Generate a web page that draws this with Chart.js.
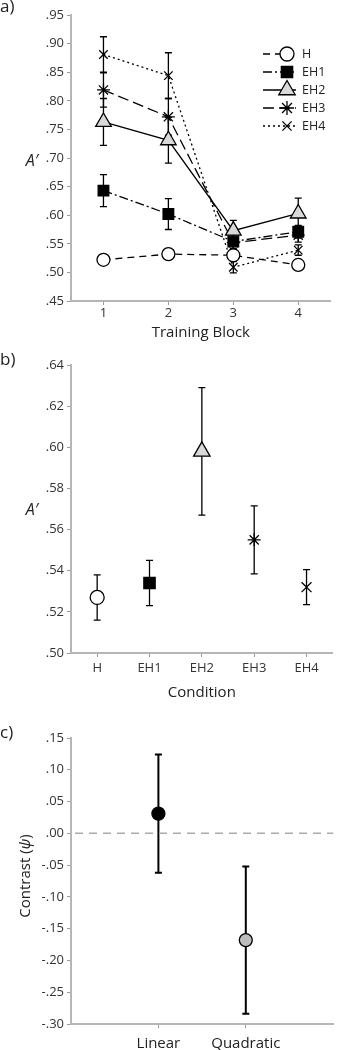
<!DOCTYPE html>
<html><head><meta charset="utf-8">
<script src="https://cdn.jsdelivr.net/npm/chart.js@4/dist/chart.umd.min.js"></script>
<style>
html,body{margin:0;padding:0;background:#fff;}
body{width:341px;height:1050px;position:relative;overflow:hidden;}
.panel{position:absolute;left:0;}
canvas{display:block;}
</style></head>
<body>
<div class="panel" style="top:0px"><canvas id="ca" width="341" height="345"></canvas></div>
<div class="panel" style="top:345px"><canvas id="cb" width="341" height="360"></canvas></div>
<div class="panel" style="top:705px"><canvas id="cc" width="341" height="345"></canvas></div>
<script>
// ---------- DATA ----------
// Panel a: A' by training block
const blocks = ['1', '2', '3', '4'];
const seriesNames = ['H', 'EH1', 'EH2', 'EH3', 'EH4'];
const meanH   = [0.522, 0.532, 0.530, 0.513];
const errH    = [0.009, 0.009, 0.009, 0.009];
const meanEH1 = [0.643, 0.602, 0.554, 0.571];
const errEH1  = [0.028, 0.027, 0.012, 0.011];
const meanEH2 = [0.763, 0.731, 0.573, 0.603];
const errEH2  = [0.041, 0.040, 0.018, 0.027];
const meanEH3 = [0.819, 0.772, 0.552, 0.565];
const errEH3  = [0.030, 0.032, 0.014, 0.012];
const meanEH4 = [0.881, 0.844, 0.509, 0.539];
const errEH4  = [0.031, 0.040, 0.010, 0.009];
const yTicksA = [0.45, 0.50, 0.55, 0.60, 0.65, 0.70, 0.75, 0.80, 0.85, 0.90, 0.95];

// Panel b: A' by condition
const conditions = ['H', 'EH1', 'EH2', 'EH3', 'EH4'];
const condMean = [0.527, 0.534, 0.598, 0.555, 0.532];
const condErr  = [0.011, 0.011, 0.031, 0.0165, 0.0085];
const yTicksB = [0.50, 0.52, 0.54, 0.56, 0.58, 0.60, 0.62, 0.64];

// Panel c: contrasts
const contrasts = ['Linear', 'Quadratic'];
const contrastPos = [1, 2];
const contrastMean = [0.031, -0.168];
const contrastErr  = [0.093, 0.116];
const yTicksC = [-0.30, -0.25, -0.20, -0.15, -0.10, -0.05, 0.00, 0.05, 0.10, 0.15];

// ---------- STYLE ----------
const FAM = "'Open Sans', sans-serif";
Chart.defaults.font.family = FAM;
Chart.defaults.color = '#333';
Chart.defaults.animation = false;

function fmt(v) {
  const s = Math.abs(v).toFixed(2).replace(/^0/, '');
  return (v < -1e-9 ? '-' : '') + s;
}

const errorBarPlugin = {
  id: 'errorBars',
  beforeDatasetsDraw(chart, args, opts) {
    const ctx = chart.ctx, ys = chart.scales.y;
    ctx.save();
    ctx.strokeStyle = opts.color || '#000';
    ctx.lineWidth = opts.lineWidth || 1.3;
    ctx.setLineDash([]);
    chart.data.datasets.forEach((ds, di) => {
      if (!ds.errors) return;
      const meta = chart.getDatasetMeta(di);
      meta.data.forEach((pt, i) => {
        const d = ds.data[i];
        const v = (d !== null && typeof d === 'object') ? d.y : d;
        const e = ds.errors[i];
        const yT = ys.getPixelForValue(v + e), yB = ys.getPixelForValue(v - e);
        const x = pt.x, c = opts.cap || 3.5;
        ctx.beginPath();
        ctx.moveTo(x, yT); ctx.lineTo(x, yB);
        ctx.moveTo(x - c, yT); ctx.lineTo(x + c, yT);
        ctx.moveTo(x - c, yB); ctx.lineTo(x + c, yB);
        ctx.stroke();
      });
    });
    ctx.restore();
  }
};

const textPlugin = {
  id: 'texts',
  afterDraw(chart, args, opts) {
    const ctx = chart.ctx;
    (opts.items || []).forEach(it => {
      ctx.save();
      ctx.fillStyle = it.color || '#222';
      ctx.textBaseline = 'middle';
      ctx.textAlign = 'left';
      ctx.translate(it.x, it.y);
      if (it.rot) ctx.rotate(it.rot);
      let total = 0;
      it.parts.forEach(p => { ctx.font = p.font; p.w = ctx.measureText(p.t).width; total += p.w; });
      let x = it.align === 'center' ? -total / 2 : 0;
      it.parts.forEach(p => { ctx.font = p.font; ctx.fillText(p.t, x, 0); x += p.w; });
      ctx.restore();
    });
  }
};

const zeroLinePlugin = {
  id: 'zeroLine',
  beforeDatasetsDraw(chart, args, opts) {
    if (!opts.show) return;
    const ctx = chart.ctx, a = chart.chartArea;
    const y = chart.scales.y.getPixelForValue(opts.value);
    ctx.save();
    ctx.strokeStyle = '#aaa'; ctx.lineWidth = 1.5; ctx.setLineDash([8, 6]);
    ctx.beginPath(); ctx.moveTo(a.left + 4, y); ctx.lineTo(a.right, y); ctx.stroke();
    ctx.restore();
  }
};

function drawMarker(ctx, style, r, x, y, fill, bw) {
  ctx.save();
  ctx.fillStyle = fill; ctx.strokeStyle = '#000'; ctx.lineWidth = bw; ctx.setLineDash([]);
  if (Chart.helpers && Chart.helpers.drawPoint) {
    Chart.helpers.drawPoint(ctx, {pointStyle: style, radius: r, rotation: 0, borderWidth: bw}, x, y);
  }
  ctx.restore();
}

const lineLegendPlugin = {
  id: 'lineLegend',
  afterDraw(chart, args, opts) {
    if (!opts.show) return;
    const ctx = chart.ctx;
    chart.data.datasets.forEach((ds, i) => {
      const y = opts.y0 + i * opts.dy;
      ctx.save();
      ctx.strokeStyle = '#000'; ctx.lineWidth = ds.borderWidth;
      ctx.setLineDash(ds.borderDash || []);
      ctx.beginPath(); ctx.moveTo(opts.x0, y); ctx.lineTo(opts.x1, y); ctx.stroke();
      ctx.restore();
      drawMarker(ctx, ds.pointStyle, ds.pointRadius + 0.5, opts.xm, y, ds.pointBackgroundColor, ds.pointBorderWidth);
      ctx.save();
      ctx.font = '12.5px ' + FAM; ctx.fillStyle = '#222'; ctx.textBaseline = 'middle'; ctx.textAlign = 'left';
      ctx.fillText(ds.label, opts.xt, y);
      ctx.restore();
    });
  }
};

Chart.register(errorBarPlugin, textPlugin, zeroLinePlugin, lineLegendPlugin);

const gridOpts = {display: true, drawOnChartArea: false, drawTicks: true, tickLength: 4, color: '#9a9a9a', lineWidth: 1, offset: false};
const borderOpts = {display: true, color: '#b5b5b5', width: 2};

function yScale(min, max, ticks) {
  return {
    type: 'linear', min: min, max: max,
    afterBuildTicks: s => { s.ticks = ticks.map(v => ({value: v})); },
    afterFit: s => { s.width = 71; },
    ticks: {callback: v => fmt(v), font: {size: 13}, color: '#333', padding: 3},
    grid: gridOpts, border: borderOpts
  };
}

function series(label, data, errors, dash, style, radius, fill) {
  return {
    label: label, data: data, errors: errors,
    borderColor: '#000', borderWidth: 1.3, borderDash: dash,
    pointStyle: style, pointRadius: radius, pointHoverRadius: radius,
    pointBackgroundColor: fill, pointBorderColor: '#000', pointBorderWidth: 1.3,
    tension: 0, fill: false
  };
}

// ---------- PANEL A ----------
new Chart(document.getElementById('ca'), {
  type: 'line',
  data: {
    labels: blocks,
    datasets: [
      series(seriesNames[0], meanH, errH, [7, 5], 'circle', 6.5, '#fff'),
      series(seriesNames[1], meanEH1, errEH1, [9, 3, 2, 3], 'rect', 7.5, '#000'),
      series(seriesNames[2], meanEH2, errEH2, [], 'triangle', 9, '#d9d9d9'),
      series(seriesNames[3], meanEH3, errEH3, [11, 5], 'star', 6.5, '#000'),
      series(seriesNames[4], meanEH4, errEH4, [2, 3], 'crossRot', 6, '#000')
    ]
  },
  options: {
    responsive: false, devicePixelRatio: 1,
    layout: {padding: {top: 15, left: 0, right: 0, bottom: 0}},
    plugins: {
      legend: {display: false}, tooltip: {enabled: false},
      errorBars: {color: '#000', lineWidth: 1.3, cap: 3.5},
      lineLegend: {show: true, x0: 263, x1: 296, xm: 287, xt: 302, y0: 54, dy: 18},
      texts: {items: [
        {x: 0, y: 7, parts: [{t: 'a)', font: '17px ' + FAM}]},
        {x: 32, y: 161, align: 'center', parts: [{t: 'A\u2032', font: 'italic 16px ' + FAM}]}
      ]}
    },
    scales: {
      x: {
        type: 'category', offset: true,
        afterFit: s => { s.height = 44; },
        ticks: {font: {size: 13}, color: '#333', padding: 0},
        grid: gridOpts, border: borderOpts,
        title: {display: true, text: 'Training Block', font: {size: 15}, color: '#222', padding: {top: 0, bottom: 3}}
      },
      y: yScale(0.45, 0.95, yTicksA)
    }
  }
});

// ---------- PANEL B ----------
new Chart(document.getElementById('cb'), {
  type: 'line',
  data: {
    labels: conditions,
    datasets: [{
      label: "A'", data: condMean, errors: condErr, showLine: false,
      pointStyle: ['circle', 'rect', 'triangle', 'star', 'crossRot'],
      pointRadius: [7, 8, 9.5, 6.5, 7],
      pointBackgroundColor: ['#fff', '#000', '#d9d9d9', '#000', '#000'],
      pointBorderColor: '#000', pointBorderWidth: 1.3
    }]
  },
  options: {
    responsive: false, devicePixelRatio: 1,
    layout: {padding: {top: 20, left: 0, right: 0, bottom: 0}},
    plugins: {
      legend: {display: false}, tooltip: {enabled: false},
      errorBars: {color: '#000', lineWidth: 1.3, cap: 3.5},
      texts: {items: [
        {x: 0, y: 15.5, parts: [{t: 'b)', font: '17px ' + FAM}]},
        {x: 32, y: 165, align: 'center', parts: [{t: 'A\u2032', font: 'italic 16px ' + FAM}]}
      ]}
    },
    scales: {
      x: {
        type: 'category', offset: true,
        afterFit: s => { s.height = 52; },
        ticks: {font: {size: 13}, color: '#333', padding: 3.5},
        grid: gridOpts, border: borderOpts,
        title: {display: true, text: 'Condition', font: {size: 15}, color: '#222', padding: {top: 0, bottom: 3.5}}
      },
      y: yScale(0.50, 0.64, yTicksB)
    }
  }
});

// ---------- PANEL C ----------
new Chart(document.getElementById('cc'), {
  type: 'line',
  data: {
    datasets: [{
      label: 'Contrast',
      data: contrastPos.map((x, i) => ({x: x, y: contrastMean[i]})),
      errors: contrastErr, showLine: false,
      pointStyle: 'circle', pointRadius: 6.5,
      pointBackgroundColor: ['#000', '#bdbdbd'],
      pointBorderColor: '#000', pointBorderWidth: 1.3
    }]
  },
  options: {
    responsive: false, devicePixelRatio: 1,
    layout: {padding: {top: 33, left: 0, right: 0, bottom: 0}},
    plugins: {
      legend: {display: false}, tooltip: {enabled: false},
      errorBars: {color: '#000', lineWidth: 2, cap: 3.5},
      zeroLine: {show: true, value: 0},
      texts: {items: [
        {x: 0, y: 28, parts: [{t: 'c)', font: '17px ' + FAM}]},
        {x: 26, y: 171, rot: -Math.PI / 2, align: 'center', parts: [
          {t: 'Contrast (', font: '15px ' + FAM},
          {t: '\u03C8', font: 'italic 15px ' + FAM},
          {t: ')', font: '15px ' + FAM}
        ]}
      ]}
    },
    scales: {
      x: {
        type: 'linear', min: 0, max: 3,
        afterBuildTicks: s => { s.ticks = contrastPos.map(v => ({value: v})); },
        afterFit: s => { s.height = 26; },
        ticks: {callback: v => contrasts[contrastPos.indexOf(v)], font: {size: 15}, color: '#222', padding: 6.7},
        grid: gridOpts, border: borderOpts
      },
      y: yScale(-0.30, 0.15, yTicksC)
    }
  }
});
</script>
</body></html>
